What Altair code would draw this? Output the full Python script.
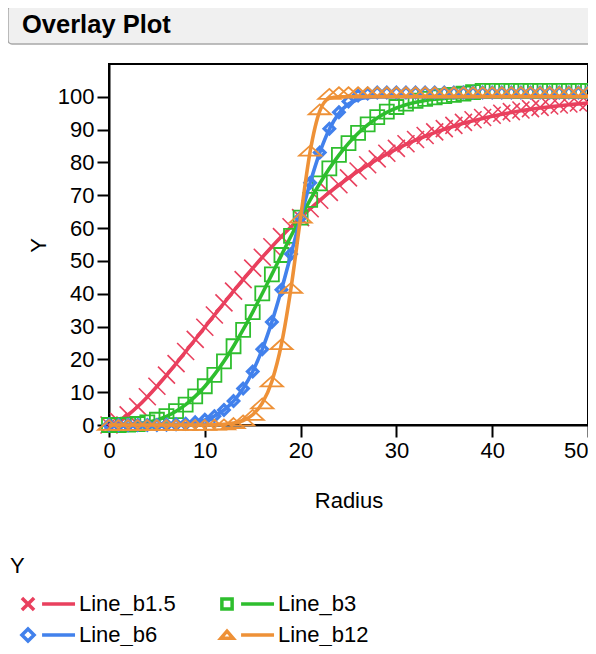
import altair as alt
import pandas as pd

radius = list(range(51))

# fitted curves (lines)
y_b15 = [0.0, 1.11, 3.11, 5.64, 8.56, 11.75, 15.15, 18.70, 22.35, 26.05, 29.78,
         33.50, 37.17, 40.79, 44.33, 47.77, 51.11, 54.33, 57.42, 60.38, 63.21,
         65.90, 68.45, 70.87, 73.14, 75.28, 77.29, 79.17, 80.92, 82.56, 84.07,
         85.48, 86.79, 87.99, 89.10, 90.12, 91.06, 91.92, 92.71, 93.43, 94.09,
         94.69, 95.23, 95.73, 96.17, 96.58, 96.94, 97.28, 97.57, 97.84, 98.08]
y_b3 = [0.0, 0.01, 0.10, 0.34, 0.80, 1.55, 2.66, 4.20, 6.20, 8.71, 11.75,
        15.33, 19.43, 24.01, 29.04, 34.42, 40.07, 45.89, 51.76, 57.57, 63.21,
        68.57, 73.58, 78.15, 82.24, 85.82, 88.89, 91.46, 93.57, 95.26, 96.58,
        97.59, 98.34, 98.88, 99.27, 99.53, 99.71, 99.82, 99.90, 99.94, 99.97,
        99.98, 99.99, 99.99, 100.0, 100.0, 100.0, 100.0, 100.0, 100.0, 100.0]
y_b6 = [0.0, 0.0, 0.0, 0.0, 0.01, 0.02, 0.07, 0.18, 0.41, 0.83, 1.55,
        2.73, 4.56, 7.26, 11.10, 16.30, 23.06, 31.42, 41.22, 52.05, 63.21,
        73.82, 82.99, 90.10, 94.95, 97.80, 99.20, 99.77, 99.95, 99.99, 100.0,
        100.0, 100.0, 100.0, 100.0, 100.0, 100.0, 100.0, 100.0, 100.0, 100.0,
        100.0, 100.0, 100.0, 100.0, 100.0, 100.0, 100.0, 100.0, 100.0, 100.0]
y_b12 = [0.0, 0.0, 0.0, 0.0, 0.0, 0.0, 0.0, 0.0, 0.0, 0.0, 0.02,
         0.08, 0.22, 0.57, 1.37, 3.12, 6.64, 13.26, 24.61, 41.75, 63.21,
         83.40, 95.67, 99.53, 99.99, 100.0, 100.0, 100.0, 100.0, 100.0, 100.0,
         100.0, 100.0, 100.0, 100.0, 100.0, 100.0, 100.0, 100.0, 100.0, 100.0,
         100.0, 100.0, 100.0, 100.0, 100.0, 100.0, 100.0, 100.0, 100.0, 100.0]

# observed points (markers)
m_b15 = [0.0, 1.1, 3.1, 5.6, 8.6, 11.8, 15.2, 18.7, 22.4, 26.1, 29.8,
         33.5, 37.2, 40.8, 44.3, 47.8, 51.1, 54.3, 57.4, 60.4, 63.2,
         65.9, 68.5, 70.9, 73.2, 75.3, 77.4, 79.3, 81.1, 82.8, 84.3,
         85.7, 87.0, 88.2, 89.3, 90.3, 91.3, 92.2, 93.0, 93.7, 94.4,
         95.0, 95.5, 96.0, 96.4, 96.8, 97.2, 97.5, 97.8, 98.1, 98.3]
m_b3 = [0.0, 0.0, 0.1, 0.3, 0.8, 1.6, 2.7, 4.2, 6.2, 8.7, 11.8,
        15.3, 19.4, 24.0, 29.0, 34.4, 40.1, 45.9, 51.8, 57.6, 63.2,
        68.6, 73.6, 78.2, 82.3, 85.9, 89.0, 91.6, 93.8, 95.5, 96.9,
        97.9, 98.8, 99.4, 99.8, 100.2, 100.6, 101.0, 101.4, 101.8, 101.8,
        101.8, 101.8, 101.8, 101.8, 101.8, 101.8, 101.8, 101.8, 101.8, 101.8]
m_b6 = [0.0, 0.0, 0.0, 0.0, 0.0, 0.0, 0.1, 0.2, 0.4, 0.8, 1.6,
        2.7, 4.6, 7.3, 11.1, 16.3, 23.1, 31.4, 41.2, 52.1, 63.2,
        73.8, 83.0, 90.3, 95.3, 98.6, 100.4, 101.0, 101.3, 101.3, 101.3,
        101.3, 101.3, 101.3, 101.3, 101.3, 101.3, 101.3, 101.3, 101.3, 101.3,
        101.3, 101.3, 101.3, 101.3, 101.3, 101.3, 101.3, 101.3, 101.3, 101.3]
m_b12 = [0.0, 0.0, 0.0, 0.0, 0.0, 0.0, 0.0, 0.0, 0.0, 0.0, 0.0,
         0.1, 0.2, 0.6, 1.4, 3.1, 6.6, 13.3, 24.6, 41.8, 63.2,
         83.6, 96.2, 100.9, 101.4, 101.4, 101.4, 101.4, 101.4, 101.4, 101.4,
         101.4, 101.4, 101.4, 101.4, 101.4, 101.4, 101.4, 101.4, 101.4, 101.4,
         101.4, 101.4, 101.4, 101.4, 101.4, 101.4, 101.4, 101.4, 101.4, 101.4]

series_names = ["Line_b1.5", "Line_b3", "Line_b6", "Line_b12"]
line_values = [y_b15, y_b3, y_b6, y_b12]
marker_values = [m_b15, m_b3, m_b6, m_b12]
colors = ["#E9405E", "#2EBE2E", "#4281EC", "#EE9137"]
x_ticks = [0, 10, 20, 30, 40, 50]
y_ticks = [0, 10, 20, 30, 40, 50, 60, 70, 80, 90, 100]

FONT = "Liberation Sans"

# marker shapes (path, size, strokeWidth)
markers = [
    ("M-1,-1L1,1M-1,1L1,-1", 289, 1.6),
    ("M-1,-1L1,-1L1,1L-1,1Z", 196, 1.8),
    ("M0,-1L1,0L0,1L-1,0Z", 110, 3.2),
    ("M0,-0.45L1,0.45L-1,0.45Z", 484, 1.8),
]
legend_paths = [
    "M-0.69,-0.19L-0.31,0.19M-0.69,0.19L-0.31,-0.19M-0.06,0L0.97,0",
    "M-0.66,-0.16L-0.34,-0.16L-0.34,0.16L-0.66,0.16Z M-0.06,0L0.97,0",
    "M-0.5,-0.19L-0.31,0L-0.5,0.19L-0.69,0Z M-0.06,0L0.97,0",
    "M-0.5,-0.12L-0.31,0.1L-0.69,0.1Z M-0.06,0L0.97,0",
]

rows = []
for name, lv, mv in zip(series_names, line_values, marker_values):
    for r, a, b in zip(radius, lv, mv):
        rows.append({"Radius": r, "Y": a, "Yobs": b, "series": name})
df = pd.DataFrame(rows)

x_enc = alt.X(
    "Radius:Q",
    scale=alt.Scale(domain=[0, 50], nice=False, zero=False),
    axis=alt.Axis(
        values=x_ticks, title="Radius", titleY=75, titleBaseline="middle",
        labelFlush=False,
        labelAlign={"condition": {"test": "datum.value == 50", "value": "right"},
                    "value": "center"},
    ),
)
y_axis = alt.Axis(values=y_ticks, title="Y", titleX=-71, titleY=181,
                  titleBaseline="middle", labelFlush=False)
y_scale = alt.Scale(domain=[0, 110], nice=False)
y_enc = alt.Y("Y:Q", scale=y_scale, axis=y_axis)
y_obs = alt.Y("Yobs:Q", scale=y_scale, axis=y_axis)

base = alt.Chart(df)
layers = []
for name, col, (path, size, sw) in zip(series_names, colors, markers):
    sub = base.transform_filter(alt.datum.series == name)
    layers.append(
        sub.mark_line(color=col, strokeWidth=3.6, interpolate="monotone")
        .encode(x=x_enc, y=y_enc)
    )
    layers.append(
        sub.mark_point(shape=path, size=size, strokeWidth=sw, color=col,
                       filled=False, opacity=1)
        .encode(x=x_enc, y=y_obs)
    )

legend_layer = base.transform_filter("false").mark_point(
    filled=False, strokeWidth=3.5, opacity=1
).encode(
    x=x_enc,
    y=y_enc,
    color=alt.Color(
        "series:N",
        scale=alt.Scale(domain=series_names, range=colors),
        legend=alt.Legend(
            title="Y", orient="none", legendX=-99, legendY=492, columns=2,
            direction="horizontal", clipHeight=22,
            symbolSize=4096, symbolStrokeWidth=3.5, labelOffset=1,
            columnPadding=33, rowPadding=9, titlePadding=15,
        ),
    ),
    shape=alt.Shape(
        "series:N",
        scale=alt.Scale(domain=series_names, range=legend_paths),
    ),
)

title_df = pd.DataFrame({"t": ["Overlay Plot"]})
title_box = alt.Chart(title_df).mark_rect(
    fill="#F0F0F0", stroke="#A8A8A8", strokeWidth=1.5, cornerRadius=4
).encode(
    x=alt.value(-101), x2=alt.value(520), y=alt.value(-58), y2=alt.value(-20)
)
title_text = alt.Chart(title_df).mark_text(
    font=FONT, fontSize=25.5, fontWeight="bold", color="black", align="left",
    baseline="alphabetic"
).encode(text="t:N", x=alt.value(-87), y=alt.value(-31))

chart = alt.layer(title_box, title_text, *layers, legend_layer).resolve_scale(
    color="independent", shape="independent"
).properties(
    width=479,
    height=361,
    autosize=alt.AutoSizeParams(type="none"),
    padding={"left": 101, "top": 56, "right": 0, "bottom": 221},
).configure_view(
    stroke="black", strokeWidth=2
).configure_axis(
    grid=False, domainColor="black", domainWidth=2, tickColor="black",
    tickWidth=2, tickSize=12, labelFont=FONT, labelFontSize=22,
    labelColor="black", labelPadding=3, titleFont=FONT, titleFontSize=22,
    titleFontWeight="normal", titleColor="black",
).configure_legend(
    titleFont=FONT, titleFontSize=22, titleFontWeight="normal",
    titleColor="black", labelFont=FONT, labelFontSize=22, labelColor="black",
    padding=0,
)

chart.save("out.html", embed_options={"renderer": "svg", "actions": False})
